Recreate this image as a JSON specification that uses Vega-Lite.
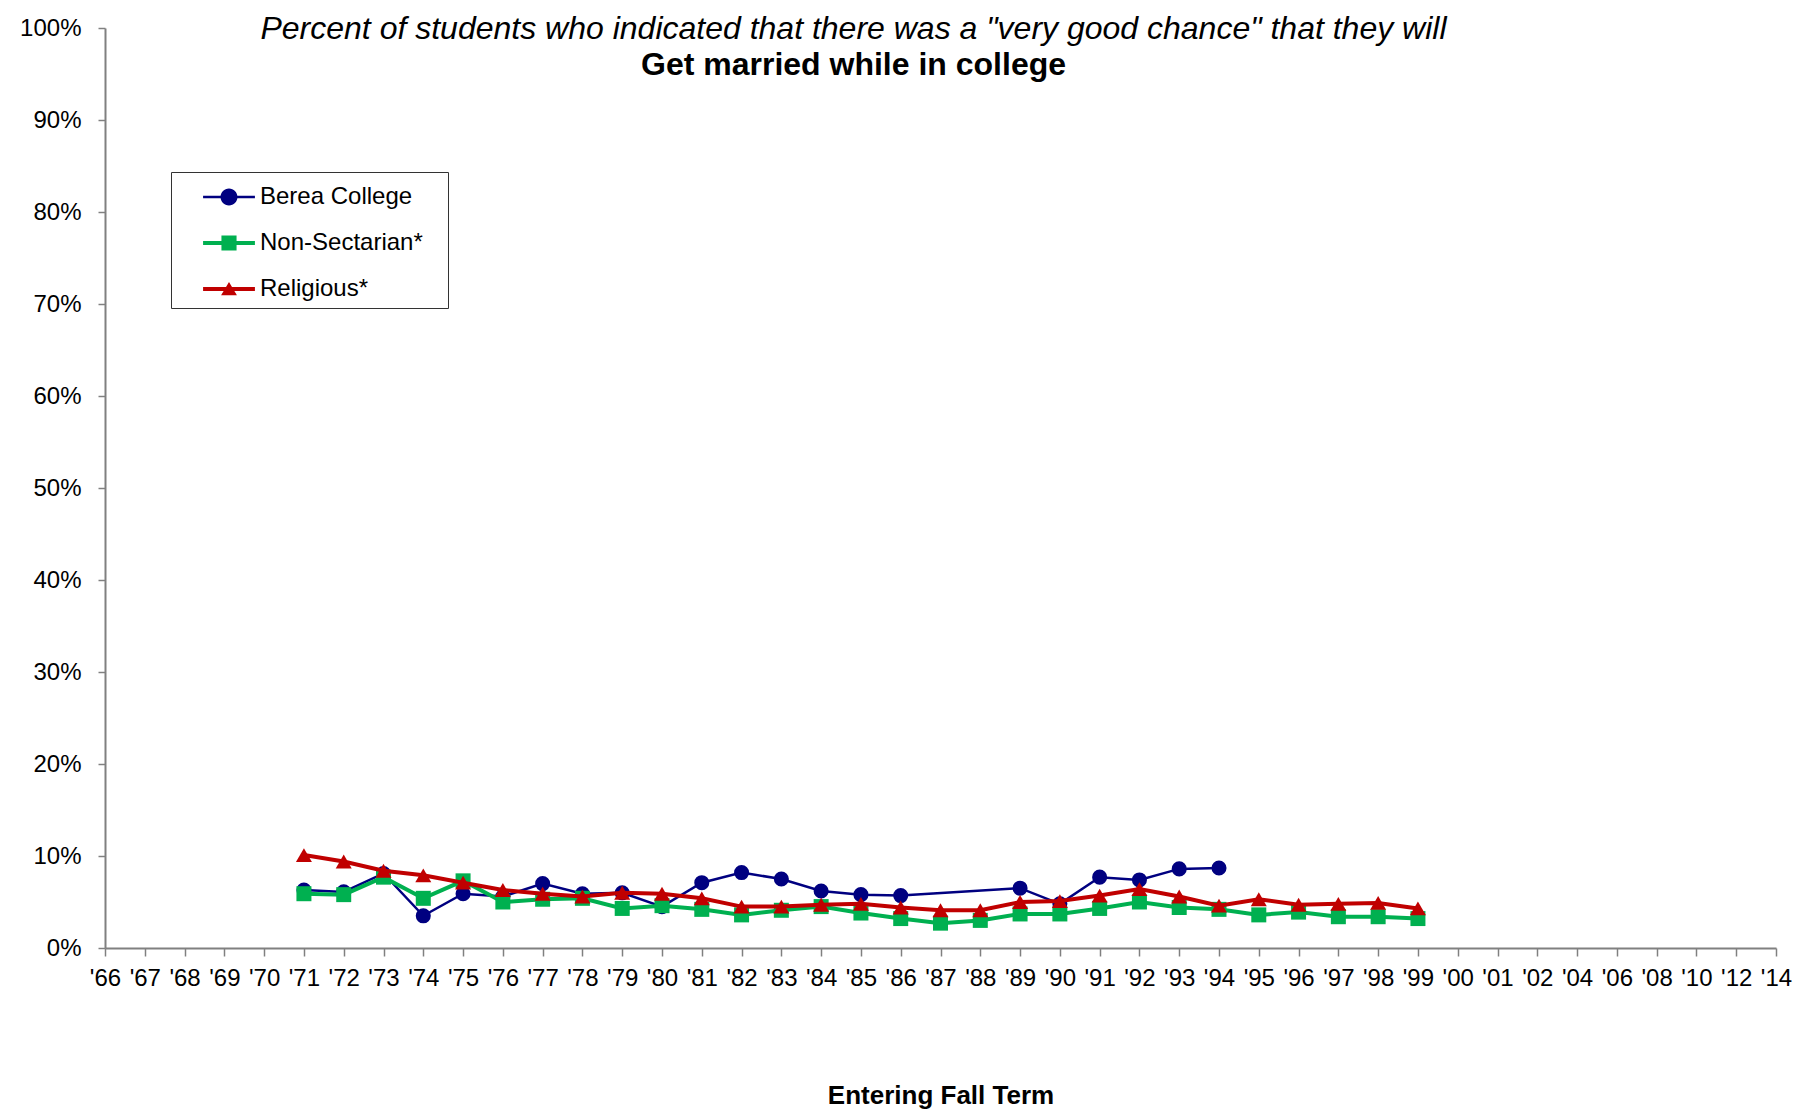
{
  "$schema": "https://vega.github.io/schema/vega-lite/v6.json",
  "width": 1671,
  "height": 920,
  "autosize": {"type": "none"},
  "padding": {"left": 105, "top": 28, "right": 20, "bottom": 162},
  "background": "white",
  "title": {
    "text": "Percent of students who indicated that there was a \"very good chance\" that they will",
    "subtitle": "Get married while in college",
    "anchor": "middle",
    "frame": "group",
    "dx": -87,
    "offset": -66,
    "font": "Liberation Sans",
    "fontSize": 32,
    "fontStyle": "italic",
    "fontWeight": "normal",
    "color": "black",
    "subtitleFont": "Liberation Sans",
    "subtitleFontSize": 32,
    "subtitleFontWeight": "bold",
    "subtitleColor": "black",
    "subtitlePadding": 4
  },
  "config": {
    "view": {"stroke": null},
    "font": "Liberation Sans",
    "axis": {
      "grid": false,
      "domainColor": "#808080",
      "domainWidth": 2,
      "tickColor": "#808080",
      "tickWidth": 1.5,
      "labelFont": "Liberation Sans",
      "labelFontSize": 24,
      "labelColor": "black",
      "titleFont": "Liberation Sans",
      "titleColor": "black"
    }
  },
  "data": {
    "values": [
      {"year": "'71", "series": "Berea College", "pct": 0.063},
      {"year": "'72", "series": "Berea College", "pct": 0.061},
      {"year": "'73", "series": "Berea College", "pct": 0.081},
      {"year": "'74", "series": "Berea College", "pct": 0.035},
      {"year": "'75", "series": "Berea College", "pct": 0.059},
      {"year": "'76", "series": "Berea College", "pct": 0.056},
      {"year": "'77", "series": "Berea College", "pct": 0.070},
      {"year": "'78", "series": "Berea College", "pct": 0.059},
      {"year": "'79", "series": "Berea College", "pct": 0.060},
      {"year": "'80", "series": "Berea College", "pct": 0.045},
      {"year": "'81", "series": "Berea College", "pct": 0.071},
      {"year": "'82", "series": "Berea College", "pct": 0.082},
      {"year": "'83", "series": "Berea College", "pct": 0.075},
      {"year": "'84", "series": "Berea College", "pct": 0.062},
      {"year": "'85", "series": "Berea College", "pct": 0.058},
      {"year": "'86", "series": "Berea College", "pct": 0.057},
      {"year": "'89", "series": "Berea College", "pct": 0.065},
      {"year": "'90", "series": "Berea College", "pct": 0.048},
      {"year": "'91", "series": "Berea College", "pct": 0.077},
      {"year": "'92", "series": "Berea College", "pct": 0.074},
      {"year": "'93", "series": "Berea College", "pct": 0.086},
      {"year": "'94", "series": "Berea College", "pct": 0.087},
      {"year": "'71", "series": "Non-Sectarian*", "pct": 0.059},
      {"year": "'72", "series": "Non-Sectarian*", "pct": 0.058},
      {"year": "'73", "series": "Non-Sectarian*", "pct": 0.077},
      {"year": "'74", "series": "Non-Sectarian*", "pct": 0.054},
      {"year": "'75", "series": "Non-Sectarian*", "pct": 0.073},
      {"year": "'76", "series": "Non-Sectarian*", "pct": 0.050},
      {"year": "'77", "series": "Non-Sectarian*", "pct": 0.053},
      {"year": "'78", "series": "Non-Sectarian*", "pct": 0.054},
      {"year": "'79", "series": "Non-Sectarian*", "pct": 0.043},
      {"year": "'80", "series": "Non-Sectarian*", "pct": 0.046},
      {"year": "'81", "series": "Non-Sectarian*", "pct": 0.042},
      {"year": "'82", "series": "Non-Sectarian*", "pct": 0.036},
      {"year": "'83", "series": "Non-Sectarian*", "pct": 0.041},
      {"year": "'84", "series": "Non-Sectarian*", "pct": 0.045},
      {"year": "'85", "series": "Non-Sectarian*", "pct": 0.038},
      {"year": "'86", "series": "Non-Sectarian*", "pct": 0.032},
      {"year": "'87", "series": "Non-Sectarian*", "pct": 0.027},
      {"year": "'88", "series": "Non-Sectarian*", "pct": 0.030},
      {"year": "'89", "series": "Non-Sectarian*", "pct": 0.037},
      {"year": "'90", "series": "Non-Sectarian*", "pct": 0.037},
      {"year": "'91", "series": "Non-Sectarian*", "pct": 0.043},
      {"year": "'92", "series": "Non-Sectarian*", "pct": 0.050},
      {"year": "'93", "series": "Non-Sectarian*", "pct": 0.044},
      {"year": "'94", "series": "Non-Sectarian*", "pct": 0.042},
      {"year": "'95", "series": "Non-Sectarian*", "pct": 0.036},
      {"year": "'96", "series": "Non-Sectarian*", "pct": 0.039},
      {"year": "'97", "series": "Non-Sectarian*", "pct": 0.034},
      {"year": "'98", "series": "Non-Sectarian*", "pct": 0.034},
      {"year": "'99", "series": "Non-Sectarian*", "pct": 0.032},
      {"year": "'71", "series": "Religious*", "pct": 0.101},
      {"year": "'72", "series": "Religious*", "pct": 0.094},
      {"year": "'73", "series": "Religious*", "pct": 0.084},
      {"year": "'74", "series": "Religious*", "pct": 0.079},
      {"year": "'75", "series": "Religious*", "pct": 0.071},
      {"year": "'76", "series": "Religious*", "pct": 0.063},
      {"year": "'77", "series": "Religious*", "pct": 0.059},
      {"year": "'78", "series": "Religious*", "pct": 0.056},
      {"year": "'79", "series": "Religious*", "pct": 0.060},
      {"year": "'80", "series": "Religious*", "pct": 0.059},
      {"year": "'81", "series": "Religious*", "pct": 0.054},
      {"year": "'82", "series": "Religious*", "pct": 0.045},
      {"year": "'83", "series": "Religious*", "pct": 0.045},
      {"year": "'84", "series": "Religious*", "pct": 0.047},
      {"year": "'85", "series": "Religious*", "pct": 0.048},
      {"year": "'86", "series": "Religious*", "pct": 0.044},
      {"year": "'87", "series": "Religious*", "pct": 0.041},
      {"year": "'88", "series": "Religious*", "pct": 0.041},
      {"year": "'89", "series": "Religious*", "pct": 0.050},
      {"year": "'90", "series": "Religious*", "pct": 0.051},
      {"year": "'91", "series": "Religious*", "pct": 0.057},
      {"year": "'92", "series": "Religious*", "pct": 0.064},
      {"year": "'93", "series": "Religious*", "pct": 0.056},
      {"year": "'94", "series": "Religious*", "pct": 0.046},
      {"year": "'95", "series": "Religious*", "pct": 0.053},
      {"year": "'96", "series": "Religious*", "pct": 0.047},
      {"year": "'97", "series": "Religious*", "pct": 0.048},
      {"year": "'98", "series": "Religious*", "pct": 0.049},
      {"year": "'99", "series": "Religious*", "pct": 0.043}
    ]
  },
  "encoding": {
    "x": {
      "field": "year",
      "type": "ordinal",
      "sort": null,
      "scale": {
        "type": "point",
        "padding": 0,
        "domain": ["'66","'67","'68","'69","'70","'71","'72","'73","'74","'75","'76","'77","'78","'79","'80","'81","'82","'83","'84","'85","'86","'87","'88","'89","'90","'91","'92","'93","'94","'95","'96","'97","'98","'99","'00","'01","'02","'04","'06","'08","'10","'12","'14"]
      },
      "axis": {
        "title": "Entering Fall Term",
        "titleFontSize": 26,
        "titleFontWeight": "bold",
        "titlePadding": 92,
        "labelAngle": 0,
        "tickSize": 8,
        "labelPadding": 10,
        "labelDx": 3
      }
    },
    "y": {
      "field": "pct",
      "type": "quantitative",
      "scale": {"domain": [0, 1], "nice": false},
      "axis": {
        "title": null,
        "format": ".0%",
        "values": [0, 0.1, 0.2, 0.3, 0.4, 0.5, 0.6, 0.7, 0.8, 0.9, 1],
        "tickSize": 7,
        "labelPadding": 17
      }
    },
    "color": {
      "field": "series",
      "type": "nominal",
      "scale": {
        "domain": ["Berea College", "Non-Sectarian*", "Religious*"],
        "range": ["#000080", "#00B050", "#C00000"]
      },
      "legend": {
        "title": null,
        "orient": "none",
        "legendX": 66,
        "legendY": 144,
        "strokeColor": "#333333",
        "padding": 7,
        "fillColor": "white",
        "labelFont": "Liberation Sans",
        "labelFontSize": 24,
        "labelColor": "black",
        "labelLimit": 400,
        "labelOffset": 13,
        "symbolOffset": 33,
        "symbolSize": 1296,
        "symbolStrokeWidth": 0,
        "rowPadding": 16,
        "labelExpr": "datum.label + '\u2800'",
        "encode": {
          "symbols": {
            "update": {
              "fill": {"scale": "color", "field": "value"},
              "stroke": {"value": "transparent"},
              "opacity": {"value": 1},
              "shape": {"signal": "datum.value === 'Berea College' ? 'M-1.44,-0.07H-0.44V0.07H-1.44Z M0.44,-0.07H1.44V0.07H0.44Z M-0.47,0A0.47,0.47 0 1,1 0.47,0A0.47,0.47 0 1,1 -0.47,0Z' : datum.value === 'Non-Sectarian*' ? 'M-1.44,-0.11H1.44V0.11H-1.44Z M-0.42,-0.42H0.42V0.42H-0.42Z' : 'M-1.44,-0.11H1.44V0.11H-1.44Z M0,-0.39L0.44,0.35L-0.44,0.35Z'"}
            }
          }
        }
      }
    }
  },
  "layer": [
    {
      "transform": [{"filter": "datum.series === 'Berea College'"}],
      "mark": {"type": "line", "strokeWidth": 2.5}
    },
    {
      "transform": [{"filter": "datum.series === 'Berea College'"}],
      "mark": {"type": "point", "shape": "circle", "filled": true, "opacity": 1, "size": 227}
    },
    {
      "transform": [{"filter": "datum.series === 'Non-Sectarian*'"}],
      "mark": {"type": "line", "strokeWidth": 4}
    },
    {
      "transform": [{"filter": "datum.series === 'Non-Sectarian*'"}],
      "mark": {"type": "point", "shape": "square", "filled": true, "opacity": 1, "size": 225}
    },
    {
      "transform": [{"filter": "datum.series === 'Religious*'"}],
      "mark": {"type": "line", "strokeWidth": 4}
    },
    {
      "transform": [{"filter": "datum.series === 'Religious*'"}],
      "mark": {"type": "point", "shape": "triangle-up", "filled": true, "opacity": 1, "size": 256}
    }
  ]
}
